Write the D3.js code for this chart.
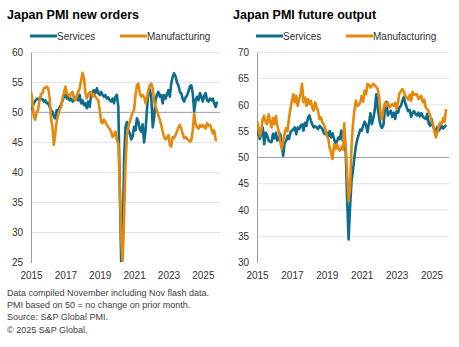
<!DOCTYPE html>
<html>
<head>
<meta charset="utf-8">
<script src="https://cdn.jsdelivr.net/npm/d3@7"></script>
<style>
body { margin: 0; background: #fff; }
svg { font-family: "Liberation Sans", Arial, sans-serif; }
</style>
</head>
<body>
<svg id="chart" width="459" height="347"></svg>
<script>
// monthly index readings, Jan 2015 - Nov 2025
var ordersServices = [
  50.4, 50.9, 51.5, 51.9, 52.2, 52.3, 52.0, 52.3, 52.2, 51.8, 52.0, 51.5,
  51.6, 50.9, 50.4, 50.1, 49.3, 49.0, 50.4, 50.1, 50.9, 51.2, 52.0, 52.6,
  52.9, 52.3, 52.6, 52.0, 52.3, 51.8, 52.0, 52.6, 52.2, 52.0, 52.9, 51.5,
  52.0, 51.2, 51.5, 50.7, 51.8, 50.9, 52.9, 53.4, 53.7, 53.2, 54.0, 53.2,
  52.9, 53.4, 52.9, 52.6, 52.9, 52.3, 52.5, 52.0, 51.8, 52.3, 51.5, 52.6,
  52.9, 50.9, 38.0, 25.2, 26.5, 42.0, 47.5, 48.4, 47.0, 46.5, 45.5, 46.0,
  47.6, 47.0, 49.0, 48.5, 47.2, 46.8, 48.0, 45.0, 47.0, 50.5, 53.2, 53.8,
  52.5, 47.5, 49.0, 52.0, 53.0, 53.4, 52.6, 52.9, 51.5, 52.9, 52.3, 53.0,
  53.7, 52.6, 54.8, 55.9, 56.5, 56.0, 55.0, 54.5, 53.4, 53.2, 52.2, 51.8,
  52.5, 52.8, 53.5, 54.3, 54.5, 53.2, 50.1, 52.0, 52.6, 52.0, 53.2, 52.6,
  51.8, 52.8, 53.2, 52.0, 51.8, 52.3, 52.0, 52.3, 51.5, 50.9, 51.8
];
var ordersManufacturing = [
  53.5, 51.8, 49.3, 48.8, 50.0, 50.4, 52.0, 53.0, 53.2, 54.0, 54.1, 54.3,
  54.0, 52.5, 49.0, 47.5, 44.6, 46.5, 48.5, 49.6, 50.4, 50.9, 52.3, 53.2,
  54.3, 53.2, 52.9, 52.6, 53.2, 53.4, 52.3, 52.0, 52.8, 53.4, 54.0, 55.3,
  56.6, 55.6, 53.4, 52.3, 53.0, 53.3, 53.4, 52.6, 53.0, 52.6, 52.3, 52.0,
  50.4, 48.4, 48.2, 48.8, 48.4, 47.9, 47.6, 47.2, 46.8, 45.9, 46.2, 46.8,
  45.4, 44.8, 38.0, 29.0, 25.2, 32.0, 41.0, 46.2, 47.6, 48.4, 49.3, 50.0,
  50.4, 52.9, 54.5, 54.8, 53.2, 52.6, 52.9, 52.6, 51.5, 52.5, 53.7, 54.5,
  54.8, 54.0, 52.0, 51.0, 50.3, 49.5, 48.8, 47.9, 46.8, 45.9, 45.5, 45.8,
  46.2, 44.5, 44.3, 45.9, 45.7, 46.2, 46.8, 47.5, 47.9, 47.3, 46.4, 45.7,
  45.9, 45.6, 45.4, 45.1, 45.3, 47.0, 49.8, 48.0, 47.5, 47.3, 47.9, 47.6,
  47.9, 47.5, 47.3, 48.2, 47.8, 47.9, 47.3, 46.5, 47.0, 45.4, 45.4
];
var outputServices = [
  54.1, 55.1, 53.5, 54.5, 55.7, 52.5, 54.7, 54.2, 53.2, 53.0, 52.9, 54.5,
  53.6, 54.7, 53.2, 53.8, 54.5, 52.9, 50.3, 52.8, 53.1, 54.1, 53.5, 54.8,
  55.1, 55.4, 55.7, 54.4, 55.7, 55.4, 56.0, 56.3, 55.1, 56.6, 56.0, 57.5,
  58.0, 57.0, 56.3, 55.7, 55.9, 55.7, 55.4, 56.0, 55.7, 55.4, 54.6, 54.4,
  54.7, 54.0, 55.0, 53.8, 54.6, 53.5, 52.8, 53.0, 53.8, 53.5, 55.1, 53.2,
  52.5, 51.0, 42.0, 34.4, 40.5, 45.5, 47.5, 50.0, 52.2, 53.5, 54.4, 55.3,
  55.1, 56.0, 56.8, 56.2, 54.8, 56.5, 58.4, 56.3, 57.5, 59.0, 62.0, 59.5,
  57.5, 56.0, 55.6, 56.2, 59.2, 60.6, 58.0, 58.5, 58.9, 57.7, 58.5, 57.3,
  58.8, 58.5, 59.5, 59.8, 60.8, 61.5, 60.3, 59.5, 58.8, 59.0, 57.7, 58.5,
  58.8, 58.2, 58.0, 58.5, 57.8, 58.4, 57.8, 57.5, 57.3, 58.3, 56.5, 56.0,
  57.3, 56.0, 55.3, 54.8, 55.8, 55.1, 55.5, 56.0, 55.5, 55.8, 56.2
];
var outputManufacturing = [
  57.0, 55.7, 54.1, 55.2, 57.3, 57.9, 56.6, 56.3, 58.2, 57.0, 55.7, 57.5,
  56.3, 57.9, 56.0, 55.0, 53.0, 51.6, 53.0, 54.5, 55.6, 55.0, 57.5, 59.3,
  60.8, 62.0, 60.5, 61.7, 59.8, 61.0, 62.0, 64.0, 60.5, 61.4, 59.8, 61.1,
  60.2, 60.8, 59.5, 58.9, 60.5, 59.5, 58.9, 57.3, 57.6, 56.6, 56.3, 55.4,
  54.1, 53.5, 51.8, 50.9, 49.7, 52.5, 51.6, 52.5, 51.6, 51.3, 52.0, 51.5,
  56.5, 52.0, 47.0, 41.7, 44.0, 52.0, 56.3, 59.0, 60.8, 59.8, 60.0, 60.5,
  61.7, 60.6, 62.7, 62.0, 64.0, 63.8, 63.3, 63.6, 64.0, 63.7, 63.4, 63.0,
  61.5, 58.0, 57.3, 59.2, 60.4, 59.8, 60.4, 59.5, 59.8, 60.1, 59.8, 60.4,
  59.2, 60.6, 62.2, 62.6, 63.0, 62.5, 61.7, 61.4, 61.0, 61.9, 60.8, 62.5,
  61.9, 62.0, 62.0, 61.1, 61.4, 61.7, 60.5, 61.0, 59.5, 59.2, 58.8, 58.0,
  56.8, 56.3, 55.0, 53.8, 54.8, 56.0, 56.6, 56.3, 57.5, 56.8, 59.2
];
var yearLabels = [2015, 2017, 2019, 2021, 2023, 2025];
var seriesNames = ["Services", "Manufacturing"];
var seriesColors = ["#0d6c8c", "#e5890d"];
var notes = [
  "Data compiled November including Nov flash data.",
  "PMI based on 50 = no change on prior month.",
  "Source: S&P Global PMI.",
  "\u00a9 2025 S&P Global."
];

var svg = d3.select("#chart");

var months = ordersServices.map(function (d, i) {
  return d3.timeMonth.offset(new Date(2015, 0, 1), i);
});

function drawPanel(id, title, left, right, yMin, yMax, series) {
  var top = 52.3, bottom = 262.5;
  var g = svg.append("g").attr("class", id);

  var x = d3.scaleTime()
    .domain([new Date(2015, 0, 1), new Date(2026, 0, 1)])
    .range([left, right]);
  var y = d3.scaleLinear().domain([yMin, yMax]).range([bottom, top]);
  var ticks = d3.range(yMin, yMax + 1, 5);

  // gridlines, 50 drawn darker
  g.append("g").selectAll("line")
    .data(ticks.filter(function (t) { return t != yMin; }))
    .enter().append("line")
    .attr("x1", left).attr("x2", right)
    .attr("y1", function (d) { return y(d); })
    .attr("y2", function (d) { return y(d); })
    .attr("stroke", function (d) { return d == 50 ? "#9c9c9c" : "#e2e2e2"; })
    .attr("stroke-width", 1);

  var yAxis = g.append("g")
    .attr("transform", "translate(" + left + ",0)")
    .call(d3.axisLeft(y).tickValues(ticks).tickSize(0).tickPadding(8));
  yAxis.select(".domain").attr("stroke", "#9a9a9a");
  yAxis.selectAll("text").attr("fill", "#333").style("font-size", "10px");

  var xAxis = g.append("g")
    .attr("transform", "translate(0," + bottom + ")")
    .call(d3.axisBottom(x)
      .tickValues(yearLabels.map(function (yr) { return new Date(yr, 0, 1); }))
      .tickFormat(d3.timeFormat("%Y"))
      .tickSize(0).tickPadding(9));
  xAxis.select(".domain").remove();
  xAxis.selectAll("text").attr("fill", "#333").style("font-size", "10px");

  var clipId = id + "-clip";
  g.append("clipPath").attr("id", clipId)
    .append("rect")
    .attr("x", left).attr("y", top - 5)
    .attr("width", right - left).attr("height", bottom - top + 5);

  var line = d3.line()
    .x(function (d, i) { return x(months[i]); })
    .y(function (d) { return y(d); });

  series.forEach(function (s, k) {
    g.append("path")
      .datum(s)
      .attr("clip-path", "url(#" + clipId + ")")
      .attr("fill", "none")
      .attr("stroke", seriesColors[k])
      .attr("stroke-width", 2.6)
      .attr("stroke-linejoin", "round")
      .attr("d", line);
  });

  g.append("text")
    .attr("x", left - 24)
    .attr("y", 18.5)
    .style("font-size", "12.5px")
    .style("font-weight", "bold")
    .attr("fill", "#000")
    .text(title);

  // legend
  var legendX = [left - 1, left + 89];
  seriesNames.forEach(function (name, k) {
    g.append("line")
      .attr("x1", legendX[k]).attr("x2", legendX[k] + 27)
      .attr("y1", 36).attr("y2", 36)
      .attr("stroke", seriesColors[k]).attr("stroke-width", 3);
    g.append("text")
      .attr("x", legendX[k] + 27)
      .attr("y", 39.5)
      .style("font-size", "10px")
      .attr("fill", "#333")
      .text(name);
  });
}

drawPanel("orders", "Japan PMI new orders", 31, 220, 25, 60,
  [ordersServices, ordersManufacturing]);
drawPanel("output", "Japan PMI future output", 257, 449, 30, 70,
  [outputServices, outputManufacturing]);

svg.append("g").selectAll("text")
  .data(notes)
  .enter().append("text")
  .attr("x", 7)
  .attr("y", function (d, i) { return 295.5 + i * 12.4; })
  .style("font-size", "9px")
  .attr("fill", "#404040")
  .text(function (d) { return d; });
</script>
</body>
</html>
